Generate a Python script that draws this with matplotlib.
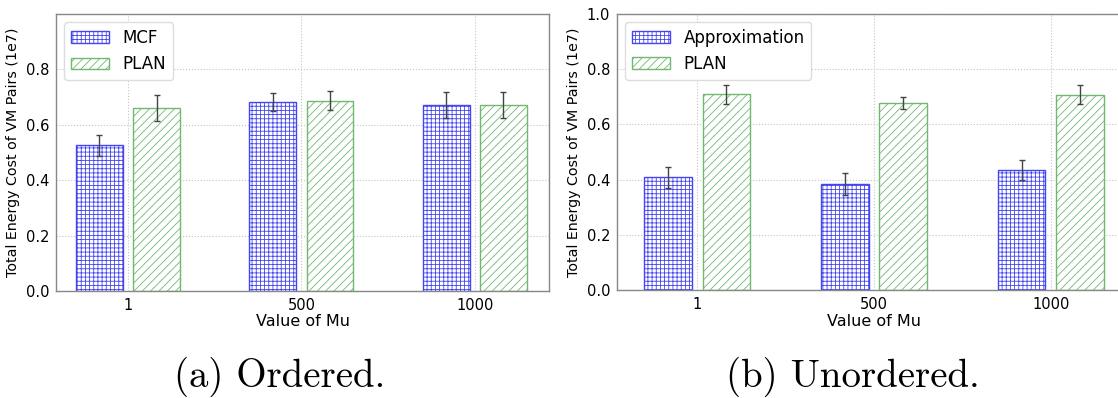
import matplotlib
matplotlib.use("Agg")
import matplotlib.pyplot as plt
import numpy as np

# values (units of 1e7)
mu_labels = ["1", "500", "1000"]

mcf = [0.526, 0.683, 0.670]
mcf_err = [0.038, 0.032, 0.046]
plan_ordered = [0.660, 0.687, 0.670]
plan_ordered_err = [0.047, 0.033, 0.046]

approx = [0.408, 0.384, 0.434]
approx_err = [0.038, 0.039, 0.036]
plan_unordered = [0.708, 0.676, 0.707]
plan_unordered_err = [0.034, 0.022, 0.035]

BLUE = "#4545f0"
GREEN = "#70b870"
BAR_W = 0.27
OFFSET = 0.165

plt.rcParams["hatch.linewidth"] = 0.6

fig = plt.figure(figsize=(11.18, 3.98), dpi=100)


def draw_panel(ax, first, first_err, first_name, second, second_err, xlim, ytop):
    x = np.arange(len(mu_labels))
    err_style = dict(ecolor="#444444", capsize=2.5, elinewidth=1.0, capthick=1.0)
    ax.bar(x - OFFSET, first, BAR_W, yerr=first_err, color="white",
           edgecolor=BLUE, hatch="++++", linewidth=1.0, label=first_name,
           error_kw=err_style, zorder=2)
    ax.bar(x + OFFSET, second, BAR_W, yerr=second_err, color="white",
           edgecolor=GREEN, hatch="////", linewidth=1.0, label="PLAN",
           error_kw=err_style, zorder=2)
    ax.set_xticks(x)
    ax.set_xticklabels(mu_labels)
    ax.set_xlim(*xlim)
    ax.set_ylim(0, ytop)
    ax.set_yticks([t for t in [0.0, 0.2, 0.4, 0.6, 0.8, 1.0] if t <= ytop])
    ax.yaxis.set_major_formatter(matplotlib.ticker.FormatStrFormatter("%.1f"))
    ax.grid(True, linestyle=":", color="#c4c4c4", linewidth=0.8, zorder=0)
    ax.set_axisbelow(True)
    for s in ax.spines.values():
        s.set_color("#888888")
        s.set_linewidth(1.0)
    ax.tick_params(length=0, labelsize=10.5, pad=5)
    ax.set_xlabel("Value of Mu", fontsize=11.5, labelpad=1)
    ax.set_ylabel("Total Energy Cost of VM Pairs (1e7)", fontsize=10.3, labelpad=4)
    ax.legend(loc="upper left", fontsize=12, handlelength=2.3, handleheight=0.7,
              edgecolor="#dddddd", framealpha=1.0, borderaxespad=0.5)


ax1 = fig.add_axes([0.0501, 0.2688, 0.441, 0.696])
draw_panel(ax1, mcf, mcf_err, "MCF", plan_ordered, plan_ordered_err,
           (-0.415, 2.428), 0.999)

ax2 = fig.add_axes([0.5519, 0.2706, 0.4597, 0.695])
draw_panel(ax2, approx, approx_err, "Approximation", plan_unordered, plan_unordered_err,
           (-0.454, 2.454), 1.0)

fig.text(280 / 1118, 1 - 377 / 398, "(a) Ordered.", family="cmr10",
         fontsize=28, ha="center", va="center")
fig.text(853 / 1118, 1 - 377 / 398, "(b) Unordered.", family="cmr10",
         fontsize=28, ha="center", va="center")

fig.savefig("out.png", dpi=100)
